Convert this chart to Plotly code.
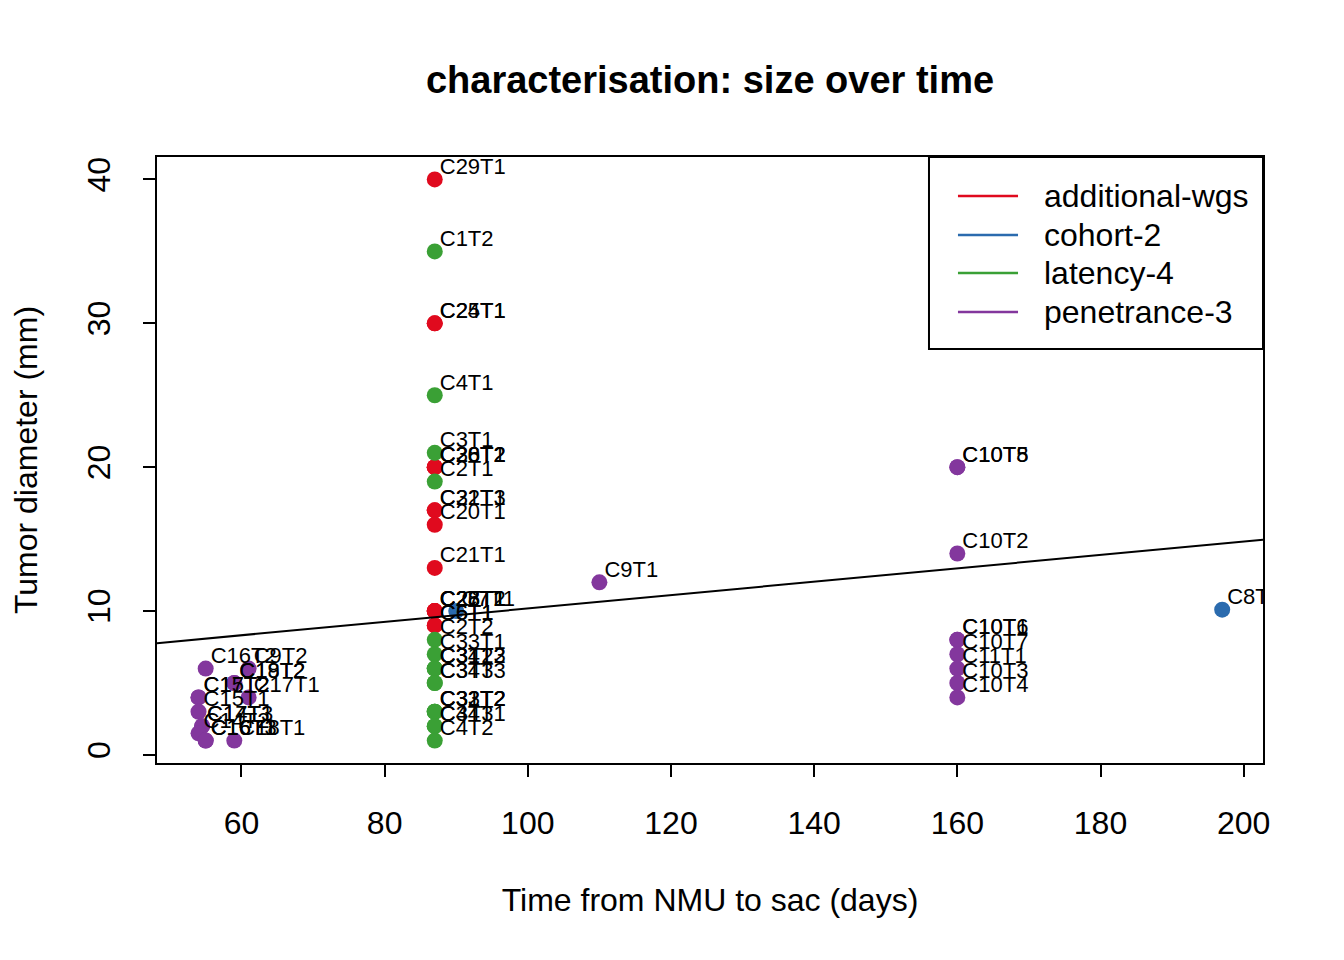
import plotly.graph_objects as go

# ---- data ----
groups = ["additional-wgs", "cohort-2", "latency-4", "penetrance-3"]
colors = ["#E00A1E", "#2B6BAE", "#3AA035", "#83379D"]

wgs_labels = ["C29T1", "C24T1", "C25T1", "C30T2", "C28T1", "C26T2", "C22T3", "C31T1",
              "C20T1", "C21T1", "C26T1", "C27T1", "C28T2", "C23T1", "C5T1", "C6T1"]
wgs_days = [87, 87, 87, 87, 87, 87, 87, 87, 87, 87, 87, 87, 87, 87, 87, 87]
wgs_size = [40, 30, 30, 20, 20, 20, 17, 17, 16, 13, 10, 10, 10, 10, 9, 9]

coh_labels = ["C7T1", "C8T1"]
coh_days = [90, 197]
coh_size = [10, 10.1]

lat_labels = ["C1T2", "C4T1", "C3T1", "C2T1", "C2T2", "C33T1", "C34T2", "C31T3", "C3T2",
              "C34T3", "C3T3", "C32T2", "C31T2", "C33T2", "C4T3", "C34T1", "C4T2"]
lat_days = [87, 87, 87, 87, 87, 87, 87, 87, 87, 87, 87, 87, 87, 87, 87, 87, 87]
lat_size = [35, 25, 21, 19, 8, 7, 6, 6, 6, 5, 5, 3, 3, 3, 2, 2, 1]

pen_labels = ["C9T1", "C10T8", "C10T5", "C10T2", "C10T1", "C10T6", "C10T7", "C11T1",
              "C10T3", "C10T4", "C16T2", "C9T2", "C18T2", "C19T2", "C15T2", "C17T2",
              "C17T1", "C15T1", "C17T3", "C14T1", "C14T2", "C16T1", "C16T3", "C18T1"]
pen_days = [110, 160, 160, 160, 160, 160, 160, 160, 160, 160, 55, 61, 59, 59, 54, 54,
            61, 54, 54.5, 54.5, 54, 55, 55, 59]
pen_size = [12, 20, 20, 14, 8, 8, 7, 6, 5, 4, 6, 6, 5, 5, 4, 4, 4, 3, 2, 2, 1.5, 1, 1, 1]

# linear fit y = a + b*x
fit_intercept = 5.53
fit_slope = 0.0465

x_ticks = [60, 80, 100, 120, 140, 160, 180, 200]
y_ticks = [0, 10, 20, 30, 40]
x_range = [48.2, 202.7]
y_range = [-0.56, 41.56]

FONT = "Liberation Sans, Arial, Helvetica, sans-serif"
OFF = 8          # page body margin of the html page
LABEL_DX = 0.7   # small horizontal nudge of point labels (days)

series = [
    (wgs_labels, wgs_days, wgs_size),
    (coh_labels, coh_days, coh_size),
    (lat_labels, lat_days, lat_size),
    (pen_labels, pen_days, pen_size),
]

fig = go.Figure()
for name, col, (lab, xs, ys) in zip(groups, colors, series):
    fig.add_trace(go.Scatter(
        x=xs, y=ys, name=name, mode="markers",
        marker=dict(color=col, size=16, line=dict(width=0)),
        showlegend=False, cliponaxis=True,
    ))
for name, (lab, xs, ys) in zip(groups, series):
    fig.add_trace(go.Scatter(
        x=[v + LABEL_DX for v in xs], y=ys, text=lab, name=name + " labels", mode="text",
        textposition="top right",
        textfont=dict(family=FONT, size=22, color="black"),
        showlegend=False, cliponaxis=True, hoverinfo="skip",
    ))

# regression line
fig.add_trace(go.Scatter(
    x=x_range, y=[fit_intercept + fit_slope * v for v in x_range],
    mode="lines", line=dict(color="black", width=2), showlegend=False,
    hoverinfo="skip",
))

# manual legend (R style)
shapes = [dict(type="rect", xref="paper", yref="paper", x0=0.698, x1=1.0, y0=0.683, y1=1.0,
               line=dict(color="black", width=2), fillcolor="white", layer="above")]
annotations = []
leg_y = [0.9356, 0.8713, 0.8086, 0.7442]
for name, col, yy in zip(groups, colors, leg_y):
    shapes.append(dict(type="line", xref="paper", yref="paper", x0=0.7242, x1=0.7785,
                       y0=yy, y1=yy, line=dict(color=col, width=2.5), layer="above"))
    annotations.append(dict(xref="paper", yref="paper", x=0.8002, y=yy, text=name,
                            showarrow=False, xanchor="left", yanchor="middle",
                            font=dict(family=FONT, size=32, color="black")))

fig.update_layout(
    width=1344, height=960,
    margin=dict(l=157 - OFF, r=81 + OFF, t=157 - OFF, b=197 + OFF, autoexpand=False),
    paper_bgcolor="white", plot_bgcolor="white",
    font=dict(family=FONT, size=32, color="black"),
    title=dict(text="<b>characterisation: size over time</b>", x=(710 - OFF) / 1344,
               xanchor="center", y=1 - (80 - OFF) / 960, yanchor="middle",
               font=dict(family=FONT, size=38, color="black")),
    shapes=shapes, annotations=annotations,
    xaxis=dict(range=x_range, tickvals=x_ticks, ticks="outside", ticklen=12, tickwidth=2,
               tickcolor="black", showline=True, linecolor="black", linewidth=2, mirror=True,
               showgrid=False, zeroline=False, ticklabelstandoff=19,
               tickfont=dict(family=FONT, size=32),
               title=dict(text="Time from NMU to sac (days)", standoff=48,
                          font=dict(family=FONT, size=32))),
    yaxis=dict(range=y_range, tickvals=y_ticks, ticks="outside", ticklen=12, tickwidth=2,
               tickcolor="black", showline=True, linecolor="black", linewidth=2, mirror=True,
               showgrid=False, zeroline=False, tickangle=-90, ticklabelstandoff=20,
               tickfont=dict(family=FONT, size=32),
               title=dict(text="Tumor diameter (mm)", standoff=49,
                          font=dict(family=FONT, size=32))),
)

fig.write_html("out.html")
